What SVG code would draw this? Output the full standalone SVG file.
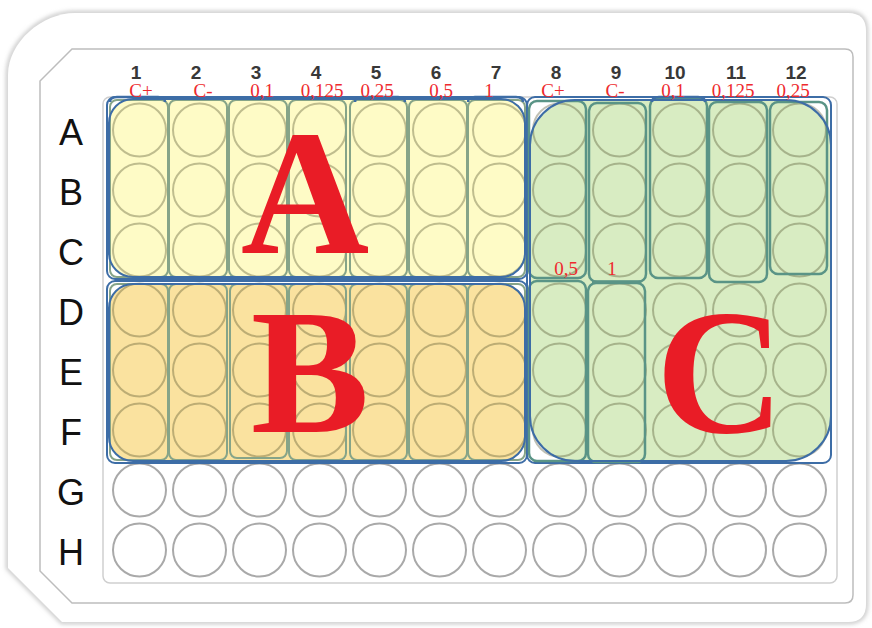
<svg xmlns="http://www.w3.org/2000/svg" width="872" height="628" viewBox="0 0 872 628">
<defs>
<style>
.num{font-family:"Liberation Sans",Arial,sans-serif;font-size:19px;font-weight:bold;fill:#383838;text-anchor:middle}
.row{font-family:"Liberation Sans",Arial,sans-serif;font-size:36px;fill:#111;text-anchor:middle}
.conc{font-family:"Liberation Serif","Times New Roman",serif;font-size:19px;fill:#ee2a2e;text-anchor:middle}
.big{font-family:"Liberation Serif","Times New Roman",serif;font-size:178px;font-weight:bold;fill:#e91c26;text-anchor:middle}
.we{fill:#fff;stroke:#a9a9a9;stroke-width:2}
.wt{fill:none;stroke:#4a4a24;stroke-opacity:.35;stroke-width:2}
.blue{fill:none;stroke:#3d6da6;stroke-width:2}
.cap{fill:none;stroke:#3d6da6;stroke-width:2.5}
.sA{fill:none;stroke:#86a488;stroke-width:2}
.sC{fill:none;stroke:#5a9486;stroke-width:2.5}
</style>
<circle id="w" r="26.5"/>
<filter id="sh" x="-5%" y="-5%" width="110%" height="110%"><feGaussianBlur stdDeviation="2"/></filter>
</defs>

<g id="plate">
<path d="M75 13 H848 Q866 13 866 31 V604 Q866 622 848 622 H62 L8 568 V75 C8 42 42 13 75 13 Z" fill="none" stroke="#c4c4c4" stroke-width="4" filter="url(#sh)"/>
<path d="M75 13 H848 Q866 13 866 31 V604 Q866 622 848 622 H62 L8 568 V75 C8 42 42 13 75 13 Z" fill="#fff"/>
<path d="M72 49 H845 Q853 49 853 57 V595 Q853 603 845 603 H72 L40 571 V81 Z" fill="#fff" stroke="#bdbdbd" stroke-width="1.5"/>
<rect x="103" y="97" width="734" height="486" rx="7" fill="#fff" stroke="#cfcfcf" stroke-width="1.5"/>
</g>

<g id="column-labels">
<text class="num" x="136" y="79">1</text>
<text class="num" x="196" y="79">2</text>
<text class="num" x="256" y="79">3</text>
<text class="num" x="316" y="79">4</text>
<text class="num" x="376" y="79">5</text>
<text class="num" x="436" y="79">6</text>
<text class="num" x="496" y="79">7</text>
<text class="num" x="556" y="79">8</text>
<text class="num" x="616" y="79">9</text>
<text class="num" x="675" y="79">10</text>
<text class="num" x="736" y="79">11</text>
<text class="num" x="796" y="79">12</text>
</g>

<g id="row-labels">
<text class="row" x="71" y="145">A</text>
<text class="row" x="71" y="205">B</text>
<text class="row" x="71" y="265">C</text>
<text class="row" x="71" y="325">D</text>
<text class="row" x="71" y="385">E</text>
<text class="row" x="71" y="445">F</text>
<text class="row" x="71" y="505">G</text>
<text class="row" x="71" y="565">H</text>
</g>

<g id="empty-wells" class="we">
<use href="#w" x="139.5" y="490"/><use href="#w" x="199.5" y="490"/><use href="#w" x="259.5" y="490"/><use href="#w" x="319.5" y="490"/><use href="#w" x="379.5" y="490"/><use href="#w" x="439.5" y="490"/><use href="#w" x="499.5" y="490"/><use href="#w" x="559.5" y="490"/><use href="#w" x="619.5" y="490"/><use href="#w" x="679.5" y="490"/><use href="#w" x="739.5" y="490"/><use href="#w" x="799.5" y="490"/>
<use href="#w" x="139.5" y="550"/><use href="#w" x="199.5" y="550"/><use href="#w" x="259.5" y="550"/><use href="#w" x="319.5" y="550"/><use href="#w" x="379.5" y="550"/><use href="#w" x="439.5" y="550"/><use href="#w" x="499.5" y="550"/><use href="#w" x="559.5" y="550"/><use href="#w" x="619.5" y="550"/><use href="#w" x="679.5" y="550"/><use href="#w" x="739.5" y="550"/><use href="#w" x="799.5" y="550"/>
</g>

<g id="region-A">
<rect class="blue" x="107" y="97" width="420" height="182" rx="8"/>
<rect x="109" y="99" width="416" height="178" rx="24" fill="#fefbc6"/>
<g class="wt">
<use href="#w" x="139.5" y="130"/><use href="#w" x="199.5" y="130"/><use href="#w" x="259.5" y="130"/><use href="#w" x="319.5" y="130"/><use href="#w" x="379.5" y="130"/><use href="#w" x="439.5" y="130"/><use href="#w" x="499.5" y="130"/>
<use href="#w" x="139.5" y="190"/><use href="#w" x="199.5" y="190"/><use href="#w" x="259.5" y="190"/><use href="#w" x="319.5" y="190"/><use href="#w" x="379.5" y="190"/><use href="#w" x="439.5" y="190"/><use href="#w" x="499.5" y="190"/>
<use href="#w" x="139.5" y="250"/><use href="#w" x="199.5" y="250"/><use href="#w" x="259.5" y="250"/><use href="#w" x="319.5" y="250"/><use href="#w" x="379.5" y="250"/><use href="#w" x="439.5" y="250"/><use href="#w" x="499.5" y="250"/>
</g>
<g class="sA">
<rect x="110" y="100" width="58" height="177" rx="7"/>
<rect x="169" y="100" width="58" height="177" rx="7"/>
<rect x="229" y="100" width="58" height="177" rx="7"/>
<rect x="289" y="100" width="57" height="177" rx="7"/>
<rect x="350" y="100" width="57" height="177" rx="7"/>
<rect x="409" y="100" width="58" height="177" rx="7"/>
<rect x="468" y="100" width="57" height="177" rx="7"/>
</g>
<rect class="blue" x="109" y="99" width="416" height="178" rx="24"/>
<path class="cap" d="M110 102 Q110 97 117 97 H158 Q165 97 165 102"/>
<path class="cap" d="M355 102 Q355 97 362 97 H398 Q405 97 405 102"/>
<path class="cap" d="M468 102 Q468 97 475 97 H516 Q523 97 523 102"/>
<text class="big" x="305" y="253">A</text>
</g>

<g id="region-B">
<rect class="blue" x="107" y="281" width="420" height="182" rx="8"/>
<rect x="109" y="284" width="416" height="177" rx="24" fill="#fae29f"/>
<g class="wt">
<use href="#w" x="139.5" y="310"/><use href="#w" x="199.5" y="310"/><use href="#w" x="259.5" y="310"/><use href="#w" x="319.5" y="310"/><use href="#w" x="379.5" y="310"/><use href="#w" x="439.5" y="310"/><use href="#w" x="499.5" y="310"/>
<use href="#w" x="139.5" y="370"/><use href="#w" x="199.5" y="370"/><use href="#w" x="259.5" y="370"/><use href="#w" x="319.5" y="370"/><use href="#w" x="379.5" y="370"/><use href="#w" x="439.5" y="370"/><use href="#w" x="499.5" y="370"/>
<use href="#w" x="139.5" y="430"/><use href="#w" x="199.5" y="430"/><use href="#w" x="259.5" y="430"/><use href="#w" x="319.5" y="430"/><use href="#w" x="379.5" y="430"/><use href="#w" x="439.5" y="430"/><use href="#w" x="499.5" y="430"/>
</g>
<g class="sA">
<rect x="110" y="284" width="58" height="176" rx="7"/>
<rect x="169" y="284" width="58" height="176" rx="7"/>
<rect x="230" y="284" width="57" height="174" rx="7"/>
<rect x="289" y="284" width="57" height="176" rx="7"/>
<rect x="350" y="284" width="57" height="176" rx="7"/>
<rect x="409" y="284" width="58" height="176" rx="7"/>
<rect x="468" y="284" width="57" height="176" rx="7"/>
</g>
<rect class="blue" x="109" y="284" width="416" height="177" rx="24"/>
<text class="big" x="310" y="432">B</text>
</g>

<g id="region-C">
<rect class="blue" x="527" y="97" width="304" height="366" rx="8"/>
<rect x="530" y="100" width="301" height="361" rx="45" fill="#d8ecc2"/>
<g class="wt">
<use href="#w" x="559.5" y="130"/><use href="#w" x="619.5" y="130"/><use href="#w" x="679.5" y="130"/><use href="#w" x="739.5" y="130"/><use href="#w" x="799.5" y="130"/>
<use href="#w" x="559.5" y="190"/><use href="#w" x="619.5" y="190"/><use href="#w" x="679.5" y="190"/><use href="#w" x="739.5" y="190"/><use href="#w" x="799.5" y="190"/>
<use href="#w" x="559.5" y="250"/><use href="#w" x="619.5" y="250"/><use href="#w" x="679.5" y="250"/><use href="#w" x="739.5" y="250"/><use href="#w" x="799.5" y="250"/>
<use href="#w" x="559.5" y="310"/><use href="#w" x="619.5" y="310"/><use href="#w" x="679.5" y="310"/><use href="#w" x="739.5" y="310"/><use href="#w" x="799.5" y="310"/>
<use href="#w" x="559.5" y="370"/><use href="#w" x="619.5" y="370"/><use href="#w" x="679.5" y="370"/><use href="#w" x="739.5" y="370"/><use href="#w" x="799.5" y="370"/>
<use href="#w" x="559.5" y="430"/><use href="#w" x="619.5" y="430"/><use href="#w" x="679.5" y="430"/><use href="#w" x="739.5" y="430"/><use href="#w" x="799.5" y="430"/>
</g>
<g class="sC">
<rect x="529" y="101" width="57" height="177" rx="8"/>
<rect x="589" y="103" width="57" height="179" rx="8"/>
<rect x="650" y="98" width="57" height="180" rx="8"/>
<rect x="709" y="102" width="58" height="180" rx="8"/>
<rect x="770" y="102" width="57" height="172" rx="8"/>
<rect x="529" y="281" width="57" height="180" rx="8"/>
<rect x="588" y="283" width="57" height="179" rx="8"/>
</g>
<path d="M592 282 H641" stroke="#5a9486" stroke-width="3.5"/>
<rect class="blue" x="530" y="100" width="301" height="361" rx="45"/>
<path class="cap" d="M652 102 Q652 97 659 97 H698 Q705 97 705 102"/>
<text class="big" x="720" y="432">C</text>
</g>

<g id="concentration-labels">
<text class="conc" x="141" y="97">C+</text>
<text class="conc" x="203" y="97">C-</text>
<text class="conc" x="262" y="97">0,1</text>
<text class="conc" x="322" y="97">0,125</text>
<text class="conc" x="377" y="97">0,25</text>
<text class="conc" x="441" y="97">0,5</text>
<text class="conc" x="489" y="97">1</text>
<text class="conc" x="553" y="97">C+</text>
<text class="conc" x="615" y="97">C-</text>
<text class="conc" x="673" y="97">0,1</text>
<text class="conc" x="733" y="97">0,125</text>
<text class="conc" x="793" y="97">0,25</text>
<text class="conc" x="566" y="275">0,5</text>
<text class="conc" x="612" y="275">1</text>
</g>
</svg>
